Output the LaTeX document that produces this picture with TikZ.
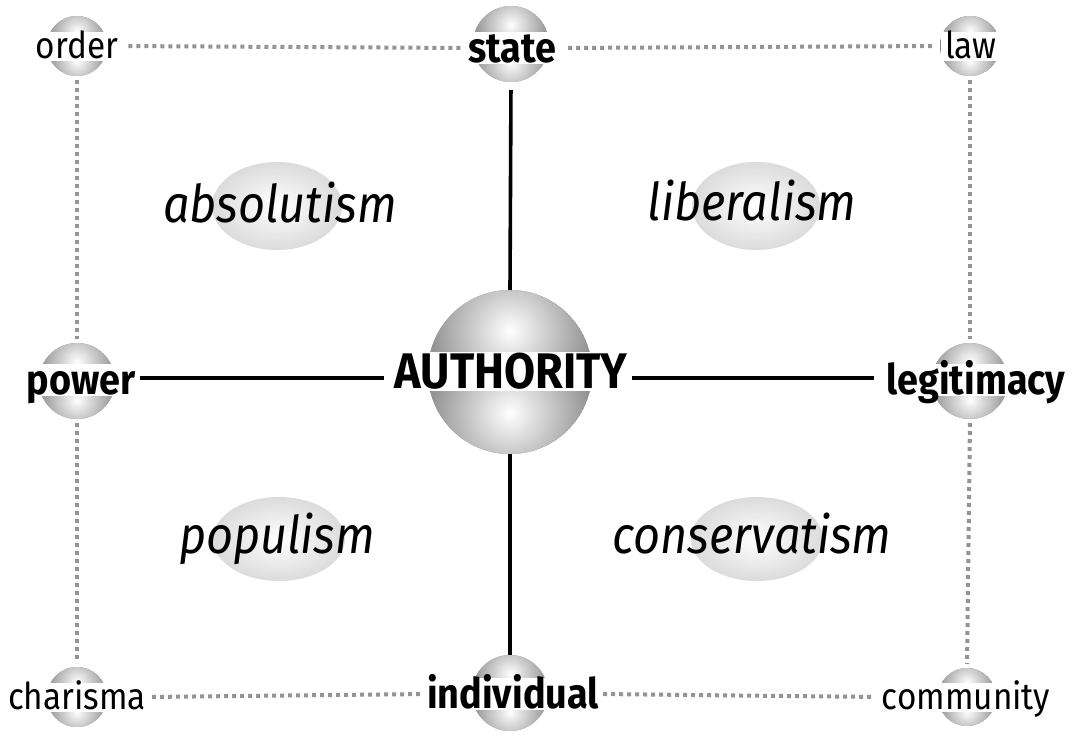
\documentclass[tikz,border=0pt]{standalone}
\usepackage{fontspec}
\newfontfamily\lab{Fira Sans}[FakeStretch=0.9]
\usetikzlibrary{calc}
\definecolor{orbedge}{gray}{0.52}
\definecolor{dotgray}{gray}{0.58}
\newcommand\orb[3]{%
  \node[circle,minimum size=#3*2pt,inner sep=0pt,outer sep=0pt] (#1) at #2 {};
  \begin{scope}
    \clip #2 circle (#3pt);
    \fill[orbedge] #2 circle (#3pt);
    \begin{scope}
      \clip ($#2+(-#3,-#3)$) rectangle ($#2+(#3,0)$);
      \shade[inner color=white,outer color=orbedge] ($#2+(0,-0.5*#3)$) circle (1.1*#3pt);
    \end{scope}
    \begin{scope}
      \clip ($#2+(-#3,0)$) rectangle ($#2+(#3,#3)$);
      \shade[inner color=white,outer color=orbedge] ($#2+(0,0.5*#3)$) circle (1.1*#3pt);
    \end{scope}
  \end{scope}}
\tikzset{
  lbl/.style={font=\lab\fontsize{37}{37}\selectfont,fill=white,inner xsep=0pt,inner ysep=1pt,
    text height=26pt,text depth=1pt},
  blbl/.style={lbl,font=\lab\bfseries\fontsize{42}{42}\selectfont,text height=29pt,text depth=1pt},
  alab/.style={lbl,font=\lab\bfseries\fontsize{50}{50}\selectfont,text height=36pt,text depth=1pt},
  ism/.style={font=\lab\itshape\fontsize{52}{52}\selectfont,inner sep=0pt},
  dotline/.style={draw=dotgray,line width=4pt,dash pattern=on 4pt off 4pt},
  solidline/.style={draw=black,line width=3.6pt},
  blob/.style={inner color=white,outer color=black!14}
}
\begin{document}
\begin{tikzpicture}[x=1pt,y=-1pt]
\useasboundingbox (0,0) rectangle (1077,737);
% background ellipses
\shade[blob] (277,206) ellipse (65pt and 44pt);
\shade[blob] (756,206) ellipse (64pt and 44pt);
\shade[blob] (279,539) ellipse (66pt and 42pt);
\shade[blob] (757,539) ellipse (66pt and 42pt);
\node[ism,anchor=base] (abs) at (280,222) {absolutism};
\node[ism,anchor=base] (lib) at (752,220) {liberalism};
\node[ism,anchor=base] (pop) at (277,553) {populism};
\node[ism,anchor=base] (con) at (752,553) {conservatism};
% spheres
\orb{ordero}{(77,46)}{30}
\orb{stateo}{(511,44)}{38}
\orb{lawo}{(970,46)}{30}
\orb{powero}{(77,381)}{38}
\orb{autho}{(510,372)}{82}
\orb{legito}{(970,381)}{38}
\orb{charo}{(77,697)}{30}
\orb{indivo}{(510,693)}{38}
\orb{commo}{(967,697)}{29}
% labels
\node[lbl,minimum width=60pt] (order) at (77,46) {order};
\node[blbl,minimum width=76pt] (state) at (512,48) {state};
\node[lbl,minimum width=60pt] (law) at (971,46) {law};
\node[blbl,minimum width=76pt] (power) at (81,380) {power};
\node[alab,minimum width=164pt] (auth) at (511,371) {AUTHORITY};
\node[blbl,minimum width=76pt] (legit) at (976,380) {legitimacy};
\node[lbl,minimum width=60pt] (charisma) at (77,697) {charisma};
\node[blbl,minimum width=76pt] (indiv) at (513,694) {individual};
\node[lbl,minimum width=58pt] (comm) at (966,697) {community};
\coordinate (hl) at (0,378);
% dotted connectors
\draw[dotline,shorten <=10pt,shorten >=6pt] (order.east) -- (state.west);
\draw[dotline,shorten <=12pt,shorten >=6pt] (state.east) -- (law.west);
\draw[dotline,shorten <=4pt,shorten >=4pt] (ordero.south) -- (powero.north);
\draw[dotline,shorten <=4pt,shorten >=4pt] (powero.south) -- (charo.north);
\draw[dotline,shorten <=4pt,shorten >=4pt] (lawo.south) -- (legito.north);
\draw[dotline,shorten <=4pt,shorten >=4pt] (legito.south) -- (commo.north);
\draw[dotline,shorten <=6pt,shorten >=3pt] (charisma.east) -- (indiv.west);
\draw[dotline,shorten <=4pt,shorten >=10pt] (indiv.east) -- (comm.west);
% solid connectors
\draw[solidline,shorten <=8pt] (stateo.south) -- (autho.north);
\draw[solidline] (autho.south) -- (indivo.north);
\draw[solidline,shorten <=4pt,shorten >=10pt] (power.east |- hl) -- (auth.west |- hl);
\draw[solidline,shorten <=4pt,shorten >=12pt] (auth.east |- hl) -- (legit.west |- hl);
\end{tikzpicture}
\end{document}
